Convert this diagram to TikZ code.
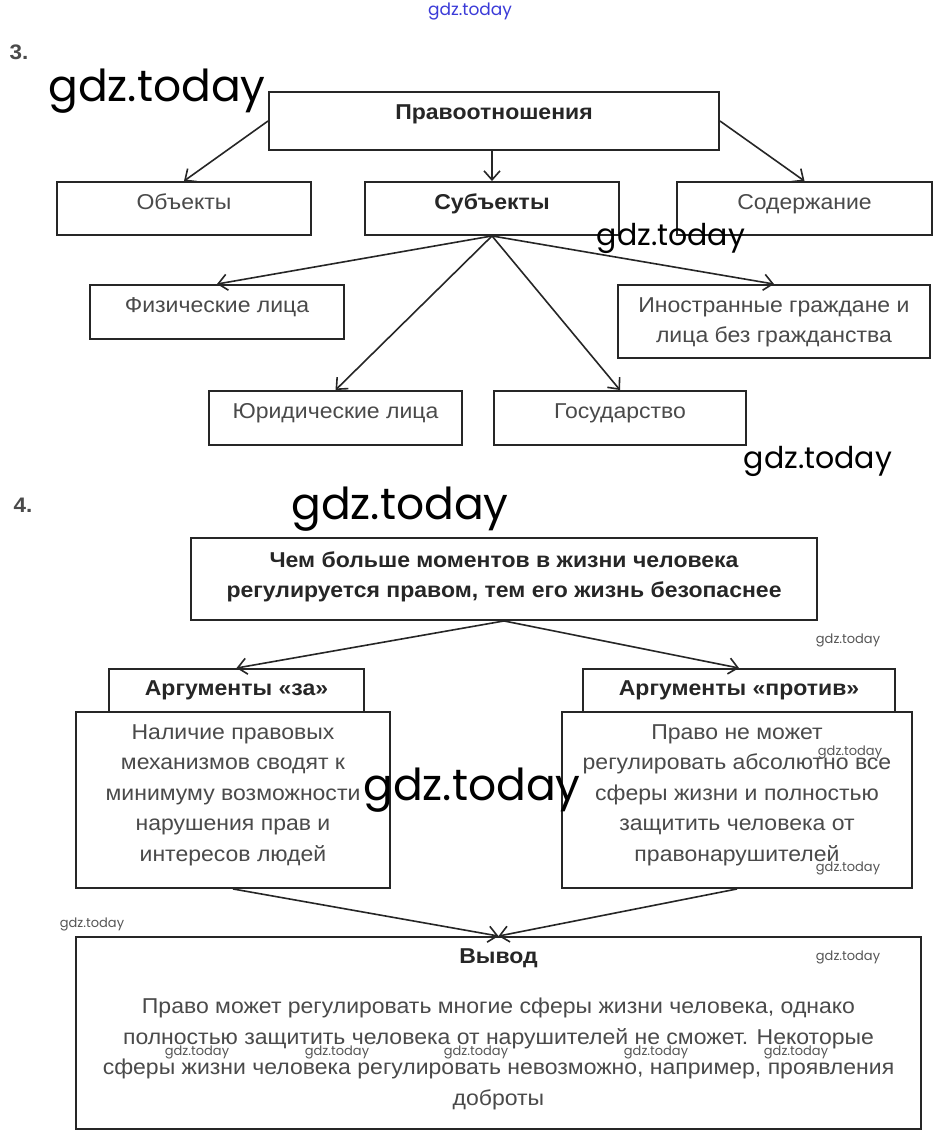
\documentclass[tikz,border=0pt]{standalone}
\usepackage{fontspec}
\setmainfont{Liberation Sans}[FakeStretch=1.07]
\newfontfamily\wmfont{Poppins}
\usetikzlibrary{arrows.meta}
\definecolor{txt}{HTML}{4A4A4A}
\definecolor{ln}{HTML}{262626}
\definecolor{wmblue}{HTML}{3B3BD8}
\definecolor{wmgray}{HTML}{555555}
\newcommand{\upby}[2]{\raisebox{#1}[\height][\depth]{\begin{tabular}{@{}c@{}}#2\end{tabular}}}
\begin{document}
\begin{tikzpicture}[x=1pt,y=-1pt,
  box/.style={draw=ln, line width=1.9pt, rectangle, inner sep=0pt, text=txt,
    font=\fontsize{21.5}{30.5}\selectfont},
  hbox/.style={box, text=ln, font=\fontsize{21.5}{30}\selectfont\bfseries},
  arr/.style={draw=ln, line width=1.6pt, -{Straight Barb[length=9pt,width=16pt,line width=1.6pt]}},
  num/.style={text=txt, font=\fontsize{21}{21}\selectfont\bfseries, inner sep=0pt},
  wmbig/.style={font=\wmfont\fontsize{44}{44}\selectfont, inner sep=0pt, text=black},
  wmmid/.style={font=\wmfont\fontsize{30}{30}\selectfont, inner sep=0pt, text=black},
  wmsmall/.style={font=\wmfont\fontsize{13}{13}\selectfont, inner sep=0pt, text=wmgray},
  wmtop/.style={font=\wmfont\fontsize{17}{17}\selectfont, inner sep=0pt, text=wmblue}
]
\fill[white] (0,0) rectangle (940,1139);
\useasboundingbox (0,0) rectangle (940,1139);

% ---------- section 3 ----------
\node[num] (n3) at (19,52) {3.};
\node[hbox, minimum width=450pt, minimum height=58pt] (pr) at (494,121) {\upby{7pt}{Правоотношения}};
\node[box, minimum width=254pt, minimum height=53pt] (obj) at (184,208.5) {\upby{5pt}{Объекты}};
\node[hbox, minimum width=254pt, minimum height=53pt] (sub) at (492,208.5) {\upby{5pt}{Субъекты}};
\node[box, minimum width=255pt, minimum height=53pt] (sod) at (804.5,208.5) {\upby{5pt}{Содержание}};
\node[box, minimum width=254pt, minimum height=54pt] (fiz) at (217,312) {\upby{6pt}{Физические лица}};
\node[box, minimum width=312pt, minimum height=73pt] (ino) at (774,321.5) {\upby{0pt}{Иностранные граждане и\\лица без гражданства}};
\node[box, minimum width=253pt, minimum height=54pt] (yur) at (335.5,418) {\upby{6pt}{Юридические лица}};
\node[box, minimum width=252pt, minimum height=54pt] (gos) at (620,418) {\upby{6pt}{Государство}};

\draw[arr] (pr.west) -- (obj.north);
\draw[arr] (sub.north |- pr.south) -- (sub.north);
\draw[arr] (pr.east) -- (sod.north);
\draw[arr] (sub.south) -- (fiz.north);
\draw[arr] (sub.south) -- (ino.north);
\draw[arr] (sub.south) -- (yur.north);
\draw[arr] (sub.south) -- (gos.north);

% ---------- section 4 ----------
\node[num] (n4) at (23,505) {4.};
\node[hbox, minimum width=626pt, minimum height=82pt] (q) at (504,579) {\upby{3pt}{Чем больше моментов в жизни человека\\регулируется правом, тем его жизнь безопаснее}};
\node[box, minimum width=314pt, minimum height=176pt] (zab) at (233,800) {\upby{6pt}{Наличие правовых\\механизмов сводят к\\минимуму возможности\\нарушения прав и\\интересов людей}};
\node[box, minimum width=350pt, minimum height=176pt] (prb) at (737,800) {\upby{6pt}{Право не может\\регулировать абсолютно все\\сферы жизни и полностью\\защитить человека от\\правонарушителей}};
\node[hbox, minimum width=255pt, minimum height=43pt] (za) at (236.5,690.5) {Аргументы «за»};
\node[hbox, minimum width=312pt, minimum height=43pt] (pro) at (739,690.5) {Аргументы «против»};
\node[box, minimum width=845pt, minimum height=192pt] (vyv) at (498.5,1033) {\upby{5pt}{\textbf{\textcolor{ln}{Вывод}}\\[20pt]Право может регулировать многие сферы жизни человека, однако\\полностью защитить человека от нарушителей не сможет. Некоторые\\сферы жизни человека регулировать невозможно, например, проявления\\доброты}};

\draw[arr] (q.south) -- (za.north);
\draw[arr] (q.south) -- (pro.north);
\draw[arr] (zab.south) -- (vyv.north);
\draw[arr] (prb.south) -- (vyv.north);

% ---------- watermarks ----------
\node[wmtop] (w0) at (470,12) {gdz.today};
\node[wmbig] (w1) at (157,91) {gdz.today};
\node[wmmid] (w2) at (671,238) {gdz.today};
\node[wmmid] (w3) at (818,461) {gdz.today};
\node[wmbig] (w4) at (400,509) {gdz.today};
\node[wmbig] (w5) at (472,790) {gdz.today};
\node[wmsmall] (s1) at (848,640) {gdz.today};
\node[wmsmall] (s2) at (850,752) {gdz.today};
\node[wmsmall] (s3) at (848,868) {gdz.today};
\node[wmsmall] (s4) at (92,924) {gdz.today};
\node[wmsmall] (s5) at (848,957) {gdz.today};
\node[wmsmall] (s6) at (197,1052) {gdz.today};
\node[wmsmall] (s7) at (337,1052) {gdz.today};
\node[wmsmall] (s8) at (476,1052) {gdz.today};
\node[wmsmall] (s9) at (656,1052) {gdz.today};
\node[wmsmall] (s10) at (796,1052) {gdz.today};
\end{tikzpicture}
\end{document}
